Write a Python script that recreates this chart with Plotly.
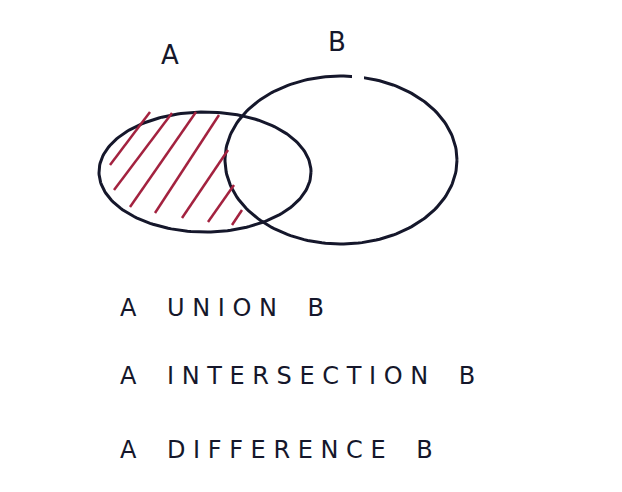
import numpy as np
import plotly.graph_objects as go

# circles: centre x, centre y, radius x, radius y (pixel-like coordinates, y down)
set_names = ["A", "B"]
centre_x = [205, 341]
centre_y = [172, 160]
radius_x = [106, 116]
radius_y = [60, 84]

# set labels
label_text = ["A", "B"]
label_x = [170, 337]
label_y = [55, 42]

# hatch strokes in A minus B
hatch_x0 = [110, 114, 130, 155, 182, 208, 232]
hatch_y0 = [165, 190, 207, 213, 218, 222, 225]
hatch_x1 = [150, 172, 196, 219, 228, 234, 242]
hatch_y1 = [112, 113, 112, 115, 150, 185, 210]

# operations listed below
ops = [["A", "UNION", "B"], ["A", "INTERSECTION", "B"], ["A", "DIFFERENCE", "B"]]
ops_y = [308, 376, 450]

ink = "#15172b"
off = -8  # page offset compensation
nb = "\u00a0"
fig = go.Figure()

t = np.linspace(0, 2 * np.pi, 200)
for cx, cy, rx, ry in zip(centre_x, centre_y, radius_x, radius_y):
    fig.add_trace(go.Scatter(x=cx + off + rx * np.cos(t), y=cy + off + ry * np.sin(t), mode="lines",
                             line=dict(color=ink, width=3), hoverinfo="skip"))

for x0, y0, x1, y1 in zip(hatch_x0, hatch_y0, hatch_x1, hatch_y1):
    fig.add_trace(go.Scatter(x=[x0 + off, x1 + off], y=[y0 + off, y1 + off], mode="lines",
                             line=dict(color="#a3223f", width=2.5), hoverinfo="skip"))

# small gap at the top of B
fig.add_trace(go.Scatter(x=[352 + off, 364 + off], y=[77 + off, 77 + off], mode="lines",
                         line=dict(color="white", width=6), hoverinfo="skip"))

for txt, x, y in zip(label_text, label_x, label_y):
    fig.add_annotation(x=x + off, y=y + off, text=txt, showarrow=False,
                       font=dict(family="DejaVu Sans", size=26, color=ink))

for words, y in zip(ops, ops_y):
    txt = (nb * 4).join(nb.join(w) for w in words)
    fig.add_annotation(x=118 + off, y=y + off, text=txt, showarrow=False, xanchor="left",
                       font=dict(family="DejaVu Sans", size=24, color=ink))

fig.update_layout(
    width=622, height=492, showlegend=False,
    margin=dict(l=0, r=0, t=0, b=0),
    paper_bgcolor="white", plot_bgcolor="white",
    xaxis=dict(range=[0, 622], visible=False),
    yaxis=dict(range=[492, 0], visible=False),
)

fig.write_html("out.html")
